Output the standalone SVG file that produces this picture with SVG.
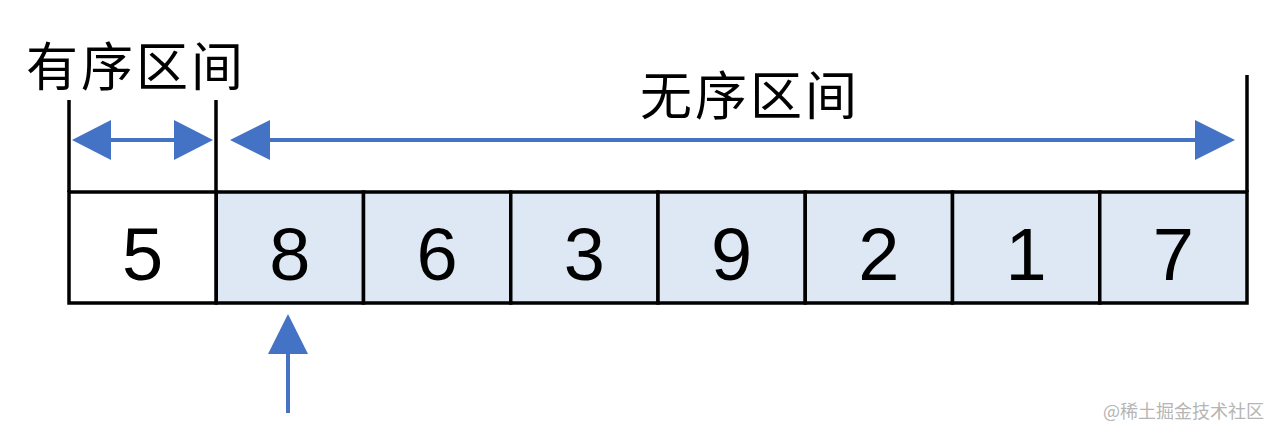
<svg xmlns="http://www.w3.org/2000/svg" width="1280" height="437" viewBox="0 0 1280 437">
<defs>
<style>
.cell{stroke:#000;stroke-width:3.5}
.u{fill:#dde8f4}
.s{fill:#fff}
.num{font-family:"Liberation Sans",Arial,sans-serif;font-size:74px;text-anchor:middle;fill:#000}
.lbl{font-family:"Noto Sans CJK SC","Noto Sans",sans-serif;font-size:52px;letter-spacing:3px;fill:#000}
.bar{stroke:#000;stroke-width:3.5}
.ln{stroke:#4472c4;stroke-width:4;fill:none}
.hd{fill:#4472c4}
</style>
</defs>
<rect width="1280" height="437" fill="#fff"/>
<text class="lbl" x="26" y="86">有序区间</text>
<text class="lbl" x="640" y="115">无序区间</text>
<g id="connectors">
<line class="bar" x1="69" y1="100" x2="69" y2="192"/>
<line class="bar" x1="216" y1="100" x2="216" y2="192"/>
<line class="bar" x1="1247" y1="75" x2="1247" y2="192"/>
<line class="ln" x1="100" y1="140" x2="185" y2="140"/>
<polygon class="hd" points="72,140 111,120 111,160"/>
<polygon class="hd" points="213,140 174,120 174,160"/>
<line class="ln" x1="260" y1="140" x2="1205" y2="140"/>
<polygon class="hd" points="230,140 270,120 270,160"/>
<polygon class="hd" points="1235,140 1195,120 1195,160"/>
<line class="ln" x1="288" y1="345" x2="288" y2="413"/>
<polygon class="hd" points="288,314 308,354 268,354"/>
</g>
<g id="c0"><rect class="cell s" x="69" y="192" width="147.25" height="111"/><text class="num" x="142.6" y="280">5</text></g>
<g id="c1"><rect class="cell u" x="216.25" y="192" width="147.25" height="111"/><text class="num" x="289.9" y="280">8</text></g>
<g id="c2"><rect class="cell u" x="363.5" y="192" width="147.25" height="111"/><text class="num" x="437.1" y="280">6</text></g>
<g id="c3"><rect class="cell u" x="510.75" y="192" width="147.25" height="111"/><text class="num" x="584.4" y="280">3</text></g>
<g id="c4"><rect class="cell u" x="658" y="192" width="147.25" height="111"/><text class="num" x="731.6" y="280">9</text></g>
<g id="c5"><rect class="cell u" x="805.25" y="192" width="147.25" height="111"/><text class="num" x="878.9" y="280">2</text></g>
<g id="c6"><rect class="cell u" x="952.5" y="192" width="147.25" height="111"/><text class="num" x="1026.1" y="280">1</text></g>
<g id="c7"><rect class="cell u" x="1099.75" y="192" width="147.25" height="111"/><text class="num" x="1173.4" y="280">7</text></g>
<text x="1103" y="418" font-family="'Noto Sans CJK SC',sans-serif" font-size="18" fill="#b5b5b5">@稀土掘金技术社区</text>
</svg>
